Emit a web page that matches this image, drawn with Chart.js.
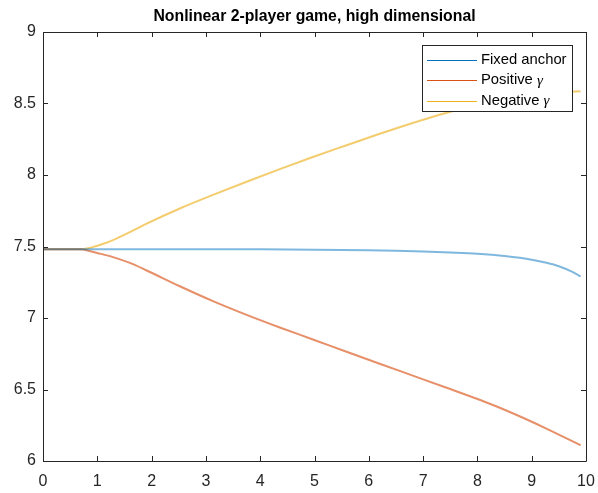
<!DOCTYPE html>
<html>
<head>
<meta charset="utf-8">
<script src="https://cdn.jsdelivr.net/npm/chart.js@4.4.1/dist/chart.umd.min.js"></script>
<style>
  html, body { margin: 0; padding: 0; background: #ffffff; }
  #wrap { width: 598px; height: 493px; position: relative; }
</style>
</head>
<body>
<div id="wrap"><canvas id="c" width="598" height="493"></canvas></div>
<script>
// Iteration axis (x) and the three trajectories.
// The null entry at the branch point (x = 0.73) ends the shared flat stretch,
// so each branch leaves it with its own slope.
const titleText = 'Nonlinear 2-player game, high dimensional';
const seriesNames = ['Fixed anchor', 'Positive', 'Negative'];
const xTicks = [0, 1, 2, 3, 4, 5, 6, 7, 8, 9, 10];
const yTicks = [6, 6.5, 7, 7.5, 8, 8.5, 9];

const fixedX = [0, 0.73, 2, 3, 4, 5, 6, 6.5, 7, 7.5, 8, 8.5, 9, 9.25, 9.5, 9.75, 9.9];
const fixedY = [7.48, 7.48, 7.48, 7.48, 7.48, 7.478, 7.474, 7.47, 7.465, 7.458, 7.449, 7.433, 7.408, 7.388, 7.362, 7.322, 7.29];

const posX = [0, 0.73, 0.73, 0.73, 1.0, 1.29, 1.6, 1.9, 2.52, 3.13, 3.75, 4.36, 4.97, 5.59, 6.2, 6.81, 7.42, 8.04, 8.65, 9.27, 9.9];
const posY = [7.48, 7.48, null, 7.48, 7.455, 7.426, 7.385, 7.334, 7.222, 7.118, 7.022, 6.934, 6.85, 6.764, 6.68, 6.597, 6.514, 6.428, 6.334, 6.227, 6.11];

const negX = [0, 0.73, 0.73, 0.73, 0.9, 1.1, 1.29, 1.6, 1.9, 2.52, 3.13, 3.75, 4.36, 4.97, 5.59, 6.2, 6.81, 7.42, 8.04, 8.65, 9.27, 9.9];
const negY = [7.48, 7.48, null, 7.48, 7.494, 7.517, 7.545, 7.6, 7.658, 7.766, 7.861, 7.953, 8.041, 8.126, 8.208, 8.288, 8.364, 8.434, 8.494, 8.54, 8.572, 8.585];

const zip = (xs, ys) => xs.map((x, i) => ({ x: x, y: ys[i] }));

const ink = '#262626';
const lineColors = ['rgba(0,114,189,0.5)', 'rgba(217,83,25,0.65)', 'rgba(237,177,32,0.65)'];
const keyColors = ['#0072BD', '#D95319', '#EDB120'];
const gammaSuffix = [false, true, true];
const sans = '"Liberation Sans", Arial, Helvetica, sans-serif';

// Box frame with inward ticks on all four sides, title and legend
const frame = {
  id: 'frame',
  afterDraw(chart) {
    const ctx = chart.ctx;
    const a = chart.chartArea;
    const xs = chart.scales.x, ys = chart.scales.y;
    const tl = 5;
    ctx.save();
    ctx.strokeStyle = ink;
    ctx.lineWidth = 1;
    ctx.beginPath();
    ctx.rect(Math.round(a.left) + 0.5, Math.round(a.top) + 0.5,
             Math.round(a.right - a.left), Math.round(a.bottom - a.top));
    ctx.stroke();
    ctx.beginPath();
    xTicks.forEach(v => {
      const px = Math.round(xs.getPixelForValue(v)) + 0.5;
      ctx.moveTo(px, a.bottom); ctx.lineTo(px, a.bottom - tl);
      ctx.moveTo(px, a.top); ctx.lineTo(px, a.top + tl);
    });
    yTicks.forEach(v => {
      const py = Math.round(ys.getPixelForValue(v)) + 0.5;
      ctx.moveTo(a.left, py); ctx.lineTo(a.left + tl, py);
      ctx.moveTo(a.right, py); ctx.lineTo(a.right - tl, py);
    });
    ctx.stroke();

    // title
    ctx.fillStyle = '#000';
    ctx.font = 'bold 15.8px ' + sans;
    ctx.textAlign = 'center';
    ctx.textBaseline = 'middle';
    ctx.fillText(titleText, (a.left + a.right) / 2, 17);

    // legend
    const lx = 422, ly = 45, lw = 150, lh = 66;
    ctx.fillStyle = '#fff';
    ctx.fillRect(lx, ly, lw, lh);
    ctx.strokeStyle = ink;
    ctx.strokeRect(lx + 0.5, ly + 0.5, lw, lh);
    ctx.textAlign = 'left';
    chart.data.datasets.forEach((ds, i) => {
      const cy = 59.5 + i * 20.5;
      ctx.strokeStyle = keyColors[i];
      ctx.lineWidth = 1;
      ctx.beginPath();
      ctx.moveTo(427, Math.round(cy) + 0.5);
      ctx.lineTo(477, Math.round(cy) + 0.5);
      ctx.stroke();
      ctx.fillStyle = '#000';
      ctx.font = '14.8px ' + sans;
      ctx.fillText(ds.label, 481, cy);
      if (gammaSuffix[i]) {
        const w = ctx.measureText(ds.label + ' ').width;
        ctx.font = 'italic 15px "Liberation Serif", "Times New Roman", serif';
        ctx.fillText('\u03B3', 481 + w, cy + 1);
      }
    });
    ctx.restore();
  }
};

new Chart(document.getElementById('c'), {
  type: 'line',
  data: {
    datasets: [
      { label: seriesNames[0], data: zip(fixedX, fixedY), borderColor: lineColors[0] },
      { label: seriesNames[1], data: zip(posX, posY), borderColor: lineColors[1] },
      { label: seriesNames[2], data: zip(negX, negY), borderColor: lineColors[2] }
    ].map(d => Object.assign(d, {
      borderWidth: 2, pointRadius: 0, fill: false, spanGaps: false,
      cubicInterpolationMode: 'monotone'
    }))
  },
  options: {
    responsive: false,
    animation: false,
    devicePixelRatio: 1,
    layout: { padding: { left: 0, right: 12, top: 32, bottom: 0 } },
    plugins: { legend: { display: false }, title: { display: false }, tooltip: { enabled: false } },
    scales: {
      x: {
        type: 'linear', min: 0, max: 10,
        grid: { display: false, drawTicks: false },
        border: { display: false },
        afterBuildTicks: s => { s.ticks = xTicks.map(v => ({ value: v })); },
        afterFit: s => { s.height = 32; s.paddingLeft = 0; s.paddingRight = 0; },
        ticks: { color: ink, padding: 11, maxRotation: 0, font: { family: sans, size: 16 } }
      },
      y: {
        type: 'linear', min: 6, max: 9,
        grid: { display: false, drawTicks: false },
        border: { display: false },
        afterBuildTicks: s => { s.ticks = yTicks.map(v => ({ value: v })); },
        afterFit: s => { s.width = 43; s.paddingTop = 0; s.paddingBottom = 0; },
        ticks: { color: ink, padding: 7, callback: v => String(v), font: { family: sans, size: 16 } }
      }
    }
  },
  plugins: [frame]
});
</script>
</body>
</html>
